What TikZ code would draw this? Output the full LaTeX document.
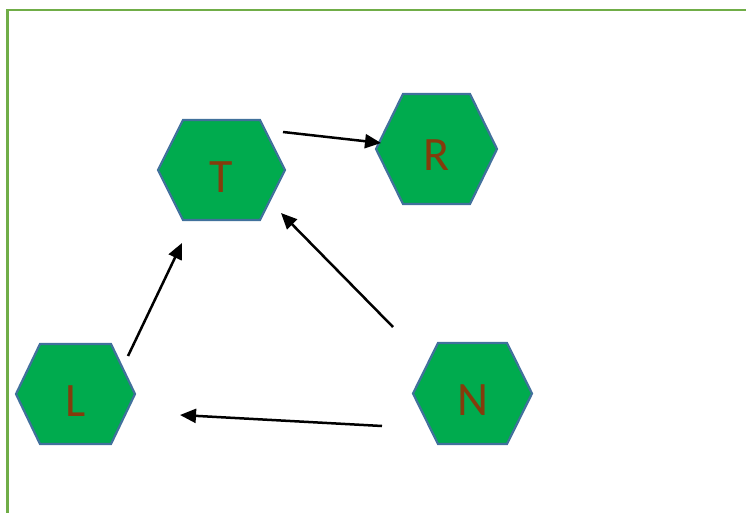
\documentclass[tikz,border=0pt]{standalone}
\usepackage{fontspec}
\setmainfont{Carlito}
\usetikzlibrary{arrows.meta}
\definecolor{hexfill}{HTML}{00AB4E}
\definecolor{hexline}{HTML}{41719C}
\definecolor{txtbrown}{HTML}{843C0C}
\definecolor{framegreen}{HTML}{70AD47}
\tikzset{
  hexsty/.style={fill=hexfill, draw=hexline, line width=2.2pt, line join=miter},
  lbl/.style={text=txtbrown, font=\fontsize{48}{52}\selectfont, inner sep=0pt},
  arr/.style={draw=black, line width=2.5pt, -{Triangle[length=16pt,width=14pt]}},
  framesty/.style={draw=framegreen, line width=2.5pt}
}
\newcommand\hexa[7]{%
  \coordinate (#1) at (#2,#3);
  \draw[hexsty] ({#2-#4/2},#3) -- ({#2-#4/2+#6},{#3-#5/2}) -- ({#2+#4/2-#6},{#3-#5/2})
     -- ({#2+#4/2},#3) -- ({#2+#4/2-#6},{#3+#5/2}) -- ({#2-#4/2+#6},{#3+#5/2}) -- cycle;
  \node[lbl, anchor=base] (#1lbl) at (#2,{#3+22}) {#7};}
\begin{document}
\begin{tikzpicture}[x=1pt,y=-1pt]
\useasboundingbox (0,0) rectangle (746,513);
\fill[white] (0,0) rectangle (746,513);
\draw[framesty] (7.5,520) -- (7.5,10) -- (752,10);
\hexa{T}{221.5}{170}{127}{100}{25}{T}
\hexa{R}{436.5}{149}{121}{110}{27}{R}
\hexa{L}{75.5}{394}{119}{100}{24}{L}
\hexa{N}{472.5}{393.5}{119}{101}{25}{N}
\coordinate (TRs) at (283,132);
\coordinate (TRe) at (381,143);
\coordinate (LTs) at (128,356);
\coordinate (LTe) at (182,243);
\coordinate (NTs) at (393,327);
\coordinate (NTe) at (281,213);
\coordinate (NLs) at (382,426);
\coordinate (NLe) at (180,415);
\draw[arr] (TRs) -- (TRe);
\draw[arr] (LTs) -- (LTe);
\draw[arr] (NTs) -- (NTe);
\draw[arr] (NLs) -- (NLe);
\end{tikzpicture}
\end{document}
